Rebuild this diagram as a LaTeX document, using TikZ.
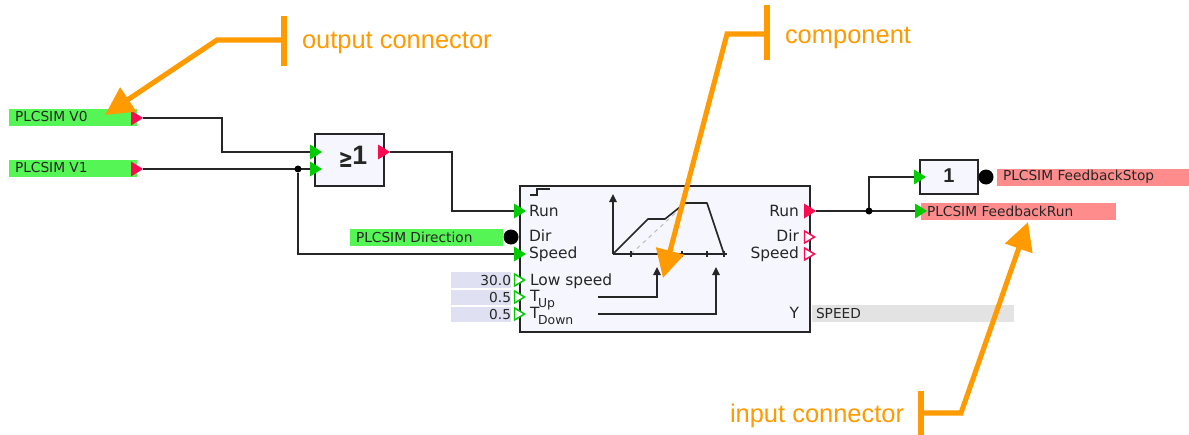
\documentclass[tikz,border=0pt]{standalone}
\usepackage{fontspec}
\setmainfont{Liberation Sans}
\newfontfamily\uifont{DejaVu Sans}[Scale=1]
\usetikzlibrary{arrows.meta,shapes.geometric,backgrounds}
\definecolor{boxfill}{HTML}{F6F7FE}
\definecolor{sigred}{HTML}{FF0A50}
\definecolor{siggreen}{HTML}{00CC00}
\definecolor{barGreen}{HTML}{55F555}
\definecolor{barRed}{HTML}{FF8C8C}
\definecolor{barBlue}{HTML}{DFE0F2}
\definecolor{barGrey}{HTML}{E3E3E3}
\definecolor{anno}{HTML}{FF9A00}
\definecolor{ink}{HTML}{262626}
\newcommand\subpin[1]{\kern-1pt\smash{\raisebox{-4.5pt}{\fontsize{9.3pt}{10pt}\selectfont #1}}}
\tikzset{
  x=0.75pt,y=-0.75pt,
  tport/.style={isosceles triangle,isosceles triangle stretches,shape border rotate=0,inner sep=0pt,outer sep=0pt,anchor=west,minimum width=15*0.75pt,minimum height=12*0.75pt},
  gport/.style={tport,fill=siggreen},
  rport/.style={tport,fill=sigred},
  gopen/.style={tport,draw=siggreen,fill=white,line width=1.1pt,minimum width=12*0.75pt,minimum height=10*0.75pt},
  ropen/.style={tport,draw=sigred,fill=white,line width=1.1pt,minimum width=12*0.75pt,minimum height=10*0.75pt},
  block/.style={draw=ink,fill=boxfill,line width=1.1pt,inner sep=0pt,outer sep=0pt},
  bar/.style={inner sep=0pt,outer sep=0pt,anchor=north west,minimum height=17*0.75pt},
  wire/.style={draw=ink,line width=1.3pt,line join=miter},
  chartl/.style={draw=ink,line width=1.2pt},
  up/.style={-{Triangle[length=6pt,width=5.5pt]}},
  dot/.style={circle,fill=black,inner sep=0pt,outer sep=0pt,minimum size=7*0.75pt},
  bigdot/.style={circle,fill=black,inner sep=0pt,outer sep=0pt,minimum size=15*0.75pt},
  sig/.style={font=\uifont\fontsize{10.3pt}{12pt}\selectfont,text=ink,inner sep=0pt,outer sep=0pt},
  pin/.style={font=\uifont\fontsize{11.6pt}{13pt}\selectfont,text=ink,inner sep=0pt,outer sep=0pt},
  annotxt/.style={font=\fontsize{19.1pt}{21pt}\selectfont,text=anno,inner sep=0pt,outer sep=0pt,anchor=west},
  bararm/.style={draw=anno,line width=3.8pt},
  annoarrow/.style={draw=anno,line width=3.8pt,line join=miter,-{Triangle[length=21pt,width=21pt,fill=anno]}},
}
\begin{document}
\begin{tikzpicture}
\useasboundingbox (0,0) rectangle (1189,435);
% bars
\node[bar,fill=barGreen,minimum width=128*0.75pt] (v0bar) at (9,109) {};
\node[bar,fill=barGreen,minimum width=128*0.75pt] (v1bar) at (9,160) {};
\node[bar,fill=barGreen,minimum width=153*0.75pt] (dirbar) at (350,229) {};
\node[bar,fill=barBlue,minimum width=60*0.75pt,minimum height=16*0.75pt] (lowbar) at (451,272) {};
\node[bar,fill=barBlue,minimum width=60*0.75pt,minimum height=15.5*0.75pt] (upbar) at (451,289.5) {};
\node[bar,fill=barBlue,minimum width=60*0.75pt,minimum height=15.5*0.75pt] (downbar) at (451,306.5) {};
\node[bar,fill=barGrey,minimum width=202*0.75pt] (speedbar) at (812,305) {};
\node[bar,fill=barRed,minimum width=192*0.75pt] (stopbar) at (997,169) {};
\node[bar,fill=barRed,minimum width=195*0.75pt] (runbar) at (921,203) {};
% blocks
\node[block,anchor=north west,minimum width=69*0.75pt,minimum height=52*0.75pt] (orblock) at (315,134) {};
\node[block,anchor=north west,minimum width=290*0.75pt,minimum height=146*0.75pt] (fb) at (520,186) {};
\node[block,anchor=north west,minimum width=58*0.75pt,minimum height=34*0.75pt] (notblock) at (920,160) {};
% ports
\node[rport] (v0p) at (131,118) {};
\node[rport] (v1p) at (131,169) {};
\node[gport] (or1) at (310,152) {};
\node[gport] (or2) at (310,169) {};
\node[rport] (orout) at (378,152) {};
\node[gport] (runin) at (514,211) {};
\node[gport] (speedin) at (514,254) {};
\node[gopen] (lowin) at (514.5,280) {};
\node[gopen] (upin) at (514.5,297) {};
\node[gopen] (downin) at (514.5,314) {};
\node[rport] (runout) at (804,211) {};
\node[ropen] (dirout) at (804.5,237) {};
\node[ropen] (speedout) at (804.5,254) {};
\node[gport] (notin) at (914,177) {};
\node[gport] (fbrun) at (915,211) {};
\node[bigdot] (dirin) at (511,237) {};
\node[bigdot] (notout) at (986,177) {};
\node[dot] (j1) at (298,169) {};
\node[dot] (j2) at (869,211) {};
% wires
\begin{scope}[on background layer]
\draw[wire] (v0p.apex) -- (222,118) |- (or1.west);
\draw[wire] (v1p.apex) -- (or2.west);
\draw[wire] (j1) |- (speedin.west);
\draw[wire] (orout.apex) -- (452,152) |- (runin.west);
\draw[wire] (runout.apex) -- (fbrun.west);
\draw[wire] (j2) |- (notin.west);
\end{scope}
% block contents
\node[font=\uifont\fontsize{13pt}{18pt}\selectfont\bfseries,text=ink,inner sep=0pt,anchor=east] (orge) at (353.5,160) {\scalebox{1}[1.5]{≥}};
\node[font=\fontsize{20pt}{22pt}\selectfont\bfseries,text=ink,inner sep=0pt,anchor=west] (orlabel) at (352,155) {1};
\node[font=\fontsize{15pt}{17pt}\selectfont\bfseries,text=ink,inner sep=0pt] (notlabel) at (949,176) {1};
% signal texts
\node[sig,anchor=west] (v0t) at (15,117) {PLCSIM V0};
\node[sig,anchor=west] (v1t) at (15,168) {PLCSIM V1};
\node[sig,anchor=west] (dirt) at (356,237) {PLCSIM Direction};
\node[sig,anchor=east] (lowv) at (511,280) {30.0};
\node[sig,anchor=east] (upv) at (511,297) {0.5};
\node[sig,anchor=east] (downv) at (511,314) {0.5};
\node[sig,anchor=west] (speedt) at (816,313) {SPEED};
\node[sig,anchor=west] (stopt) at (1003,177) {PLCSIM FeedbackStop};
\node[sig,anchor=west] (runt) at (927,211) {PLCSIM FeedbackRun};
% pin texts
\node[pin,anchor=west] (p1) at (529,211) {Run};
\node[pin,anchor=west] (p2) at (529,236) {Dir};
\node[pin,anchor=west] (p3) at (529,254) {Speed};
\node[pin,anchor=west] (p4) at (530,281) {Low speed};
\node[pin,anchor=west] (p5) at (530,296) {T\subpin{Up}};
\node[pin,anchor=west] (p6) at (530,313) {T\subpin{Down}};
\node[pin,anchor=east] (q1) at (799,211) {Run};
\node[pin,anchor=east] (q2) at (799,236) {Dir};
\node[pin,anchor=east] (q3) at (799,254) {Speed};
\node[pin,anchor=east] (q4) at (799,313) {Y};
% chart
\draw[draw=ink,line width=1.1pt] (530,195) -- (537,195) -- (537,189) -- (550,189);
\draw[draw=black!25,line width=0.8pt,dashed] (631,254) -- (684,205);
\draw[chartl,up] (613,254) -- (613,194);
\draw[chartl] (613,254) -- (727,254);
\foreach \t in {631,682,707,724} \draw[draw=ink,line width=0.9pt] (\t,251) -- (\t,257);
\draw[chartl,line join=round] (613,254) -- (648,219) -- (665,219) -- (685,203) -- (707,203) -- (724,254);
\draw[chartl,up] (598,297) -- (657,297) -- (657,267);
\draw[chartl,up] (598,314) -- (716,314) -- (716,267);
% annotations
\node[annotxt] (a1) at (302,43) {output connector};
\node[annotxt] (a2) at (785,38) {component};
\node[annotxt] (a3) at (730,416) {input connector};
\coordinate (b1t) at (284,16); \coordinate (b1b) at (284,66); \coordinate (b1m) at (284,40);
\coordinate (b2t) at (767,5);  \coordinate (b2b) at (767,60); \coordinate (b2m) at (767,34);
\coordinate (b3t) at (921,391);\coordinate (b3b) at (921,435);\coordinate (b3m) at (921,413);
\draw[bararm] (b1t) -- (b1b);
\draw[bararm] (b2t) -- (b2b);
\draw[bararm] (b3t) -- (b3b);
\coordinate (t1) at (105,115); \coordinate (t2) at (663,278); \coordinate (t3) at (1028,222);
\draw[annoarrow] (b1m) -- (217,40) -- (t1);
\draw[annoarrow] (b2m) -- (727,34) -- (t2);
\draw[annoarrow] (b3m) -- (961,413) -- (t3);
\end{tikzpicture}
\end{document}
